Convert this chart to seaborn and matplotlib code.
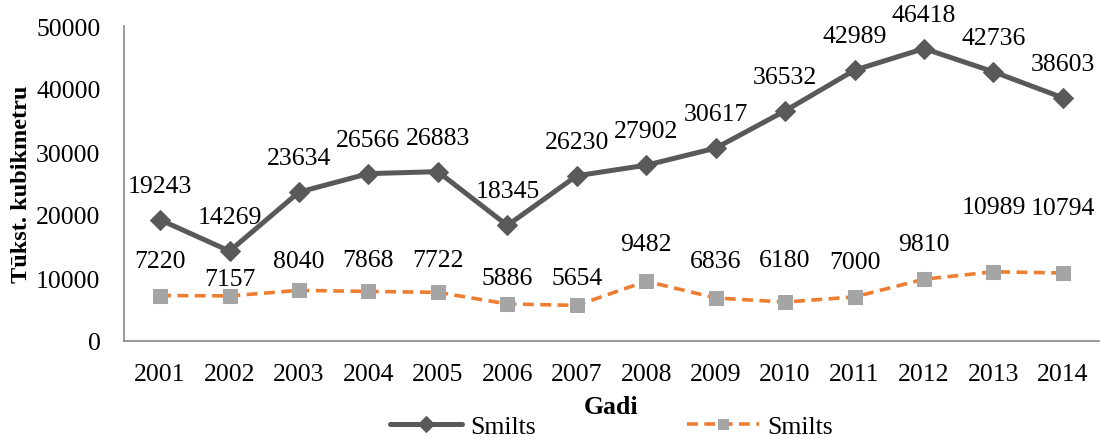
import matplotlib
matplotlib.use("Agg")
import matplotlib.pyplot as plt
import seaborn as sns
import pandas as pd

years = [2001, 2002, 2003, 2004, 2005, 2006, 2007, 2008, 2009, 2010, 2011, 2012, 2013, 2014]
series_a = [19243, 14269, 23634, 26566, 26883, 18345, 26230, 27902, 30617, 36532, 42989, 46418, 42736, 38603]
series_b = [7220, 7157, 8040, 7868, 7722, 5886, 5654, 9482, 6836, 6180, 7000, 9810, 10989, 10794]
series_names = ["Smilts", "Smilts"]
y_ticks = [0, 10000, 20000, 30000, 40000, 50000]

# vertical offsets (pixels) of the value labels above each marker
offs_a = [34] * 14
offs_b = [35, 17, 29, 31, 32, 26, 27, 37, 37, 42, 35, 35, 65, 65]

FS = 18.5

sns.set_theme(style="white")
plt.rcParams["font.family"] = ["Liberation Serif", "DejaVu Serif"]
plt.rcParams["text.color"] = "black"
plt.rcParams["axes.labelcolor"] = "black"
plt.rcParams["xtick.color"] = "black"
plt.rcParams["ytick.color"] = "black"

df = pd.DataFrame({"Gadi": [str(y) for y in years], "a": series_a, "b": series_b})
df["x"] = range(len(years))

fig = plt.figure(figsize=(11.02, 4.39), dpi=100)
ax = fig.add_axes([124 / 1102, 1 - 342 / 439, (1099 - 124) / 1102, (342 - 27) / 439])

sns.lineplot(data=df, x="x", y="a", ax=ax, color="#595959", linewidth=3.6,
             marker="D", markersize=10.5, markeredgecolor="#595959",
             label=series_names[0])
sns.lineplot(data=df, x="x", y="b", ax=ax, color="#ED7D31", linewidth=2.6,
             linestyle=(0, (3, 1.8)), marker="s", markersize=9.5,
             markerfacecolor="#A5A5A5", markeredgecolor="#A5A5A5",
             label=series_names[1])

for i, (va, vb) in enumerate(zip(series_a, series_b)):
    ax.annotate(str(va), (i, va), xytext=(0, offs_a[i] * 0.72), textcoords="offset points",
                ha="center", va="center", fontsize=FS, color="black")
    ax.annotate(str(vb), (i, vb), xytext=(0, offs_b[i] * 0.72), textcoords="offset points",
                ha="center", va="center", fontsize=FS, color="black")

ax.set_xlim(-0.52, len(years) - 0.48)
ax.set_ylim(0, 50000)
ax.set_yticks(y_ticks)
ax.set_yticklabels([str(t) for t in y_ticks], fontsize=FS)
ax.set_xticks(range(len(years)))
ax.set_xticklabels([str(y) for y in years], fontsize=FS)
ax.tick_params(axis="x", length=0, pad=16)
ax.tick_params(axis="y", length=0, pad=17)

for s in ["top", "right"]:
    ax.spines[s].set_visible(False)
for s in ["left", "bottom"]:
    ax.spines[s].set_color("#878787")
    ax.spines[s].set_linewidth(1.2)

ax.set_xlabel("Gadi", fontsize=FS, fontweight="bold", labelpad=7)
ax.set_ylabel("Tūkst. kubikmetru", fontsize=17.5, fontweight="bold", labelpad=3)

leg = ax.legend(loc="center", bbox_to_anchor=(0.5, -0.273), ncol=2, frameon=False,
                fontsize=FS, handlelength=2.8, columnspacing=5.9, handletextpad=0.3,
                borderaxespad=0, markerscale=0.8)

fig.savefig("out.png", dpi=100)
